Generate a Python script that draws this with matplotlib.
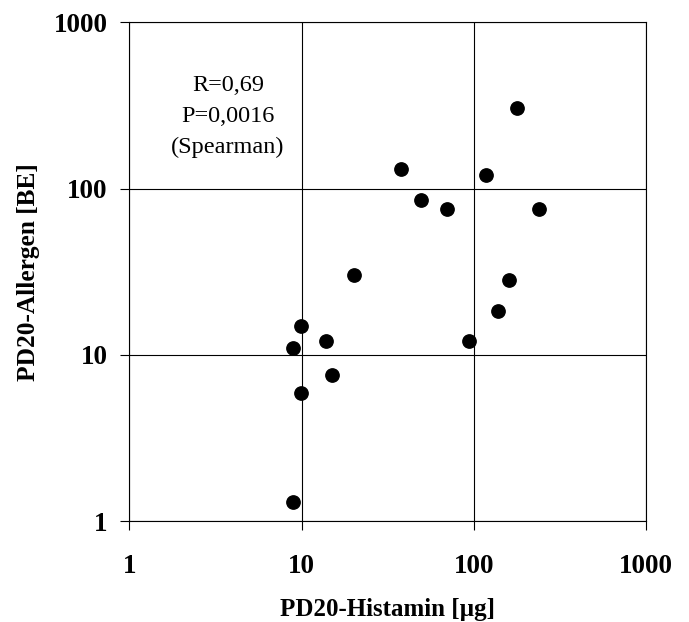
import numpy as np
import matplotlib
matplotlib.use('Agg')
import matplotlib.pyplot as plt
from matplotlib.ticker import FixedLocator, NullLocator

# PD20 values
histamin = [178, 37.6, 118, 49, 70, 237, 20, 160, 138, 9.9, 13.8, 94, 8.9, 15, 9.9, 8.9]
allergen = [304, 131, 121, 85.5, 76, 76, 30.3, 28.4, 18.3, 14.9, 12.1, 12.1, 11.0, 7.6, 5.9, 1.3]

tick_vals = [1, 10, 100, 1000]
tick_labels = ['1', '10', '100', '1000']
note_lines = ['R=0,69', 'P=0,0016', '(Spearman)']

plt.rcParams['font.family'] = ['Liberation Serif', 'DejaVu Serif']

fig = plt.figure(figsize=(6.89, 6.22), dpi=100)
ax = fig.add_axes([0.1878, 0.1619, 0.7502, 0.8021])

ax.plot(histamin, allergen, 'o', color='black', markersize=9.6, zorder=3)

ax.set_xscale('log')
ax.set_yscale('log')
ax.set_xlim(1, 1000)
ax.set_ylim(1, 1000)
ax.xaxis.set_major_locator(FixedLocator(tick_vals))
ax.yaxis.set_major_locator(FixedLocator(tick_vals))
ax.xaxis.set_minor_locator(NullLocator())
ax.yaxis.set_minor_locator(NullLocator())
ax.set_xticklabels(tick_labels, fontsize=19.5, fontweight='bold')
ax.set_yticklabels(tick_labels, fontsize=19.5, fontweight='bold')
ax.tick_params(axis='both', direction='out', length=6.5, width=0.8, color='black')
ax.tick_params(axis='x', pad=17)
ax.tick_params(axis='y', pad=9)

ax.grid(True, which='major', color='black', linewidth=0.8)
for s in ax.spines.values():
    s.set_color('black')
    s.set_linewidth(0.8)

ax.set_xlabel('PD20-Histamin [µg]', fontsize=18, fontweight='bold', labelpad=14)
ax.set_ylabel('PD20-Allergen [BE]', fontsize=18.3, fontweight='bold', labelpad=10)

# annotation, one line at a time (baseline positions)
for i, line in enumerate(note_lines):
    ax.text(0.1908, 0.863 - i*0.062, line, transform=ax.transAxes,
            ha='center', va='baseline', fontsize=17.5)

fig.savefig('out.png', dpi=100)
